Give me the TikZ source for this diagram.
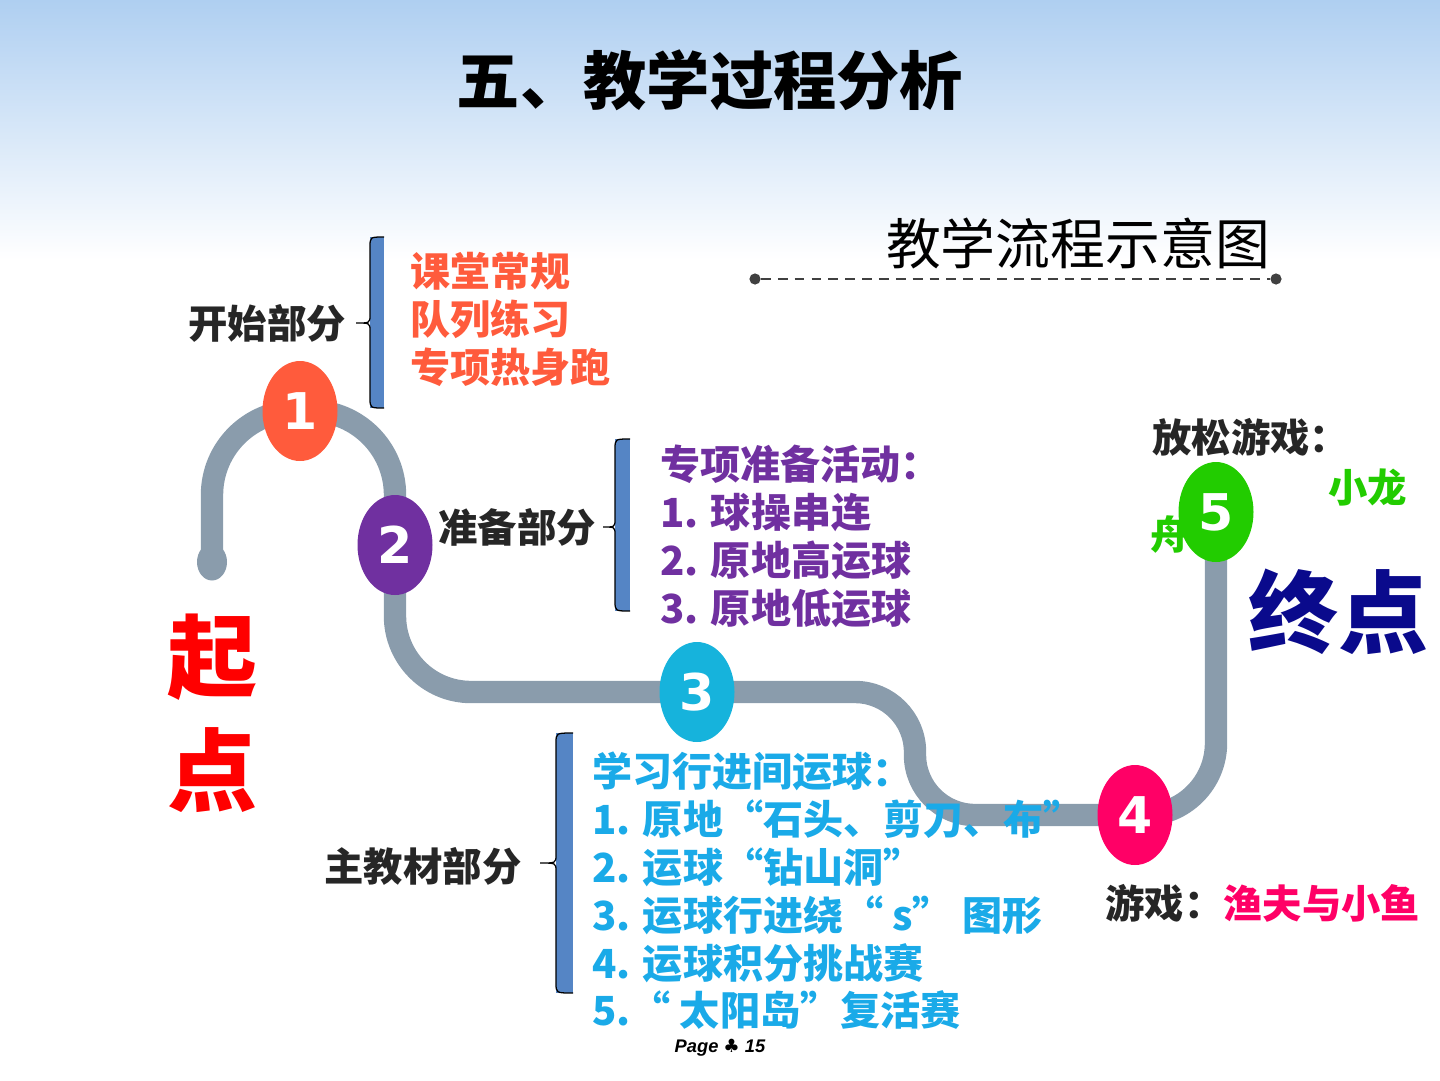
\documentclass[tikz,border=0pt]{standalone}
\usepackage{fontspec}
\setmainfont{Liberation Sans}
\newfontfamily\hei{Noto Sans CJK SC}
\newfontfamily\dejavu{DejaVu Sans}
\usetikzlibrary{shapes.geometric,backgrounds}
\definecolor{skyBlue}{HTML}{AFCFF1}
\definecolor{skyLight}{HTML}{DCEAF8}
\definecolor{roadGray}{HTML}{8A9CAC}
\definecolor{barBlue}{HTML}{5585C5}
\definecolor{textDark}{HTML}{262626}
\definecolor{lineDark}{HTML}{404040}
\definecolor{stopOne}{HTML}{FF5B3C}
\definecolor{stopTwo}{HTML}{7030A0}
\definecolor{stopThree}{HTML}{16B3DC}
\definecolor{stopFour}{HTML}{FF0066}
\definecolor{stopFive}{HTML}{22CC00}
\definecolor{listBlue}{HTML}{1AAAE8}
\definecolor{startRed}{HTML}{FF0000}
\definecolor{endBlue}{HTML}{0A0A8C}
\tikzset{
  stopnode/.style={ellipse, minimum width=18.75mm, minimum height=25mm, inner sep=0pt,
    text=white, font=\dejavu\bfseries\fontsize{36}{36}\selectfont},
  road/.style={draw=roadGray, line width=5.6mm},
  partlabel/.style={inner sep=0pt, text=textDark, font=\hei\bfseries\fontsize{28}{34}\selectfont},
  itemlist/.style={anchor=north west, align=left, inner sep=0pt,
    font=\hei\bfseries\fontsize{28.5}{34}\selectfont},
  bracebar/.style={fill=barBlue},
  braceline/.style={draw=black, line width=0.9pt},
  bigword/.style={inner sep=0pt, font=\hei\bfseries\fontsize{64}{64}\selectfont},
  dotend/.style={circle, fill=lineDark, minimum size=2.8mm, inner sep=0pt},
}

\begin{document}
\begin{tikzpicture}[x=0.25mm, y=-0.25mm]
  \useasboundingbox (0,0) rectangle (1440,1080);
  \begin{pgfonlayer}{background}
    \shade[top color=skyBlue, middle color=skyLight, bottom color=white] (0,0) rectangle (1440,260);
  \end{pgfonlayer}

  % titles
  \node[inner sep=0pt, font=\hei\bfseries\fontsize{45}{45}\selectfont] (title) at (710,80) {五、教学过程分析};
  \node[inner sep=0pt, font=\hei\fontsize{39}{39}\selectfont] (flowtitle) at (1078,243) {教学流程示意图};
  \node[dotend] (dl) at (755,279) {};
  \node[dotend] (dr) at (1276,279) {};
  \draw[lineDark, line width=1.4pt, dash pattern=on 7pt off 5pt] (dl) -- (dr);

  % brackets
  \fill[bracebar] (370,237) rectangle (384,408);
  \draw[braceline] (384,237) .. controls (370,237) .. (370,247) -- (370,315)
    .. controls (370,323) .. (356,323) .. controls (370,323) .. (370,331) -- (370,398)
    .. controls (370,408) .. (384,408);
  \fill[bracebar] (615,439) rectangle (630,611);
  \draw[braceline] (630,439) .. controls (615,439) .. (615,449) -- (615,519)
    .. controls (615,527) .. (603,527) .. controls (615,527) .. (615,535) -- (615,601)
    .. controls (615,611) .. (630,611);
  \fill[bracebar] (556,733) rectangle (573,993);
  \draw[braceline] (573,733) .. controls (556,733) .. (556,743) -- (556,855)
    .. controls (556,863) .. (540,863) .. controls (556,863) .. (556,871) -- (556,983)
    .. controls (556,993) .. (573,993);

  % part labels and lists
  \node[partlabel] (kaishi) at (267,323) {开始部分};
  \node[itemlist, text=stopOne] (kaishilist) at (410,252) {课堂常规\\队列练习\\专项热身跑};
  \node[partlabel] (zhunbei) at (517,527) {准备部分};
  \node[itemlist, text=stopTwo] (zhunbeilist) at (660,445) {专项准备活动：\\1. 球操串连\\2. 原地高运球\\3. 原地低运球};
  \node[partlabel] (zhujiao) at (423,866) {主教材部分};
  \node[itemlist, text=listBlue] (zhujiaolist) at (592,752)
    {学习行进间运球：\\1. 原地“石头、剪刀、布”\\2. 运球“钻山洞”\\3. 运球行进绕“ s” 图形\\4. 运球积分挑战赛\\5.“ 太阳岛”复活赛};
  \node[partlabel, anchor=west] (youxi) at (1105,903) {游戏：\textcolor{stopFour}{渔夫与小鱼}};
  \node[partlabel, anchor=west] (fangsong) at (1152,437) {放松游戏：};
  \node[partlabel, anchor=west, text=stopFive] (xiaolong) at (1328,487) {小龙};
  \node[partlabel, text=stopFive] (zhou) at (1170,535) {舟};

  % start and end words
  \node[bigword, text=startRed] (qi) at (212,657) {起};
  \node[bigword, text=startRed] (dian) at (212,770) {点};
  \node[bigword, text=endBlue] (zhongdian) at (1338,612) {终点};
  \node[font=\bfseries\itshape\fontsize{13}{13}\selectfont] (page) at (720,1048) {Page {\dejavu\bfseries ♣} 15};

  % stops on the road
  \node[ellipse, fill=roadGray, minimum width=7.5mm, minimum height=9.25mm, inner sep=0pt] (start) at (212,562) {};
  \node[stopnode, fill=stopOne] (n1) at (300,411) {1};
  \node[stopnode, fill=stopTwo] (n2) at (395,545) {2};
  \node[stopnode, fill=stopThree] (n3) at (697,692) {3};
  \node[stopnode, fill=stopFour] (n4) at (1135,815) {4};
  \node[stopnode, fill=stopFive] (n5) at (1216,512) {5};
  \coordinate (topleft) at (start |- n1);
  \coordinate (topright) at (n2 |- n1);
  \coordinate (lowleft) at (n2 |- n3);
  \coordinate (sdown) at (915,692);
  \coordinate (sup) at (915,815);
  \coordinate (lowright) at (n5 |- n4);

  \begin{pgfonlayer}{background}
    \draw[road, rounded corners=21mm] (start.center) -- (topleft) -- (topright) -- (n2.center);
    \draw[road, rounded corners=19mm] (n2.center) -- (lowleft) -- (n3.center);
    \draw[road, rounded corners=15mm] (n3.center) -- (sdown) -- (sup) -- (n4.center);
    \draw[road, rounded corners=18mm] (n4.center) -- (lowright) -- (n5.center);
  \end{pgfonlayer}
\end{tikzpicture}
\end{document}
